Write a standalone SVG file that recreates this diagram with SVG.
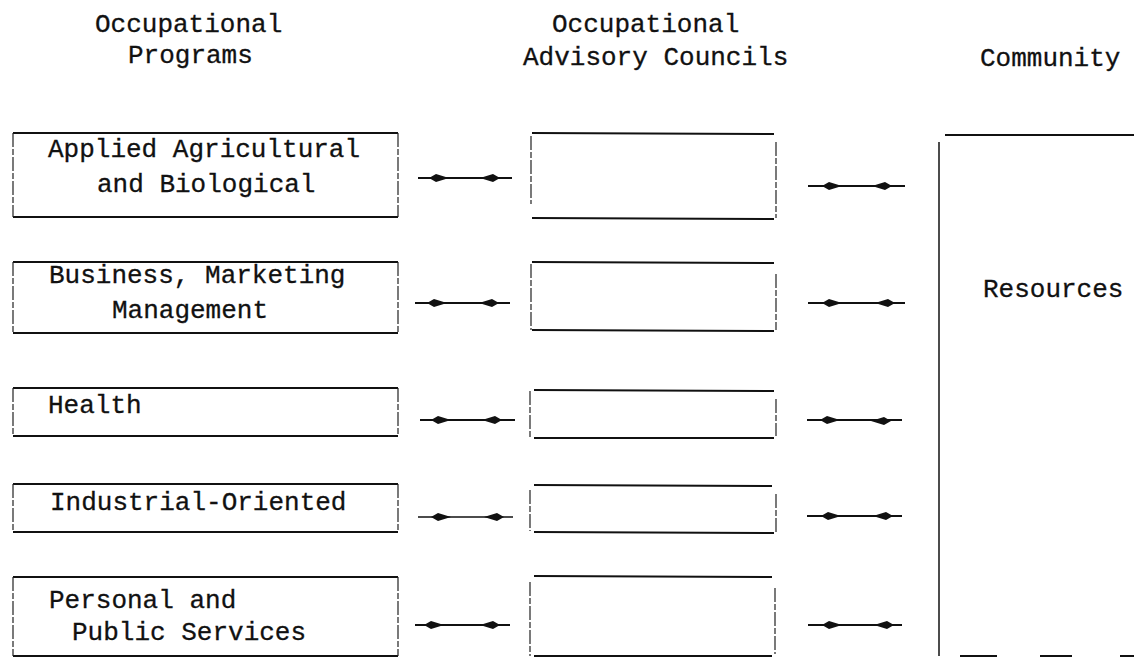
<svg xmlns="http://www.w3.org/2000/svg" xmlns:xlink="http://www.w3.org/1999/xlink" width="1134" height="658" viewBox="0 0 1134 658">
<style>
  text { font-family: "Liberation Mono", "DejaVu Sans Mono", monospace; font-size: 26px; fill: #111; stroke: #111; stroke-width: 0.3; }
  .h { stroke: #111; stroke-width: 2; fill: none; }
  .v { stroke: #222; stroke-width: 1.2; fill: none; stroke-dasharray: 14 2 6 2; }
  .ln { stroke: #111; stroke-width: 2; fill: none; }
  .hd { fill: #111; }
</style>
<defs>
  <path id="hr" class="hd" d="M-10,0 L3,-4 L10,0 L3,4 Z"/>
  <path id="hl" class="hd" d="M10,0 L-3,-4 L-10,0 L-3,4 Z"/>
</defs>
<rect width="1134" height="658" fill="#fff"/>

<g id="headers">
  <text x="95" y="32">Occupational</text>
  <text x="128" y="63">Programs</text>
  <text x="552" y="32">Occupational</text>
  <text x="523" y="65">Advisory Councils</text>
  <text x="980" y="66">Community</text>
</g>

<g id="prog1">
  <line class="h" x1="13" y1="133" x2="398" y2="133"/>
  <line class="h" x1="13" y1="217" x2="398" y2="217"/>
  <line class="v" x1="13" y1="133" x2="13" y2="217"/>
  <line class="v" x1="398" y1="133" x2="398" y2="217"/>
  <text x="48" y="157">Applied Agricultural</text>
  <text x="97" y="192">and Biological</text>
</g>
<g id="prog2">
  <line class="h" x1="13" y1="262" x2="398" y2="262"/>
  <line class="h" x1="13" y1="333" x2="398" y2="333"/>
  <line class="v" x1="13" y1="262" x2="13" y2="333"/>
  <line class="v" x1="398" y1="262" x2="398" y2="333"/>
  <text x="49" y="283">Business, Marketing</text>
  <text x="112" y="318">Management</text>
</g>
<g id="prog3">
  <line class="h" x1="13" y1="388" x2="398" y2="388"/>
  <line class="h" x1="13" y1="436" x2="398" y2="436"/>
  <line class="v" x1="13" y1="388" x2="13" y2="436"/>
  <line class="v" x1="398" y1="388" x2="398" y2="436"/>
  <text x="48" y="413">Health</text>
</g>
<g id="prog4">
  <line class="h" x1="13" y1="484" x2="398" y2="484"/>
  <line class="h" x1="13" y1="532" x2="398" y2="532"/>
  <line class="v" x1="13" y1="484" x2="13" y2="532"/>
  <line class="v" x1="398" y1="484" x2="398" y2="532"/>
  <text x="50" y="510">Industrial-Oriented</text>
</g>
<g id="prog5">
  <line class="h" x1="13" y1="577" x2="398" y2="577"/>
  <line class="h" x1="13" y1="656" x2="398" y2="656"/>
  <line class="v" x1="13" y1="577" x2="13" y2="656"/>
  <line class="v" x1="398" y1="577" x2="398" y2="656"/>
  <text x="49" y="608">Personal and</text>
  <text x="72" y="640">Public Services</text>
</g>

<g id="council1">
  <line class="h" x1="532" y1="133" x2="774" y2="134"/>
  <line class="h" x1="532" y1="218" x2="774" y2="219"/>
  <line class="v" x1="531" y1="136" x2="531" y2="204"/>
  <line class="v" x1="776" y1="142" x2="776" y2="218"/>
</g>
<g id="council2">
  <line class="h" x1="532" y1="262" x2="774" y2="263"/>
  <line class="h" x1="532" y1="330" x2="774" y2="331"/>
  <line class="v" x1="531" y1="264" x2="531" y2="330"/>
  <line class="v" x1="776" y1="274" x2="776" y2="330"/>
</g>
<g id="council3">
  <line class="h" x1="534" y1="390" x2="774" y2="391"/>
  <line class="h" x1="534" y1="438" x2="774" y2="438"/>
  <line class="v" x1="530" y1="391" x2="530" y2="437"/>
  <line class="v" x1="776" y1="399" x2="776" y2="436"/>
</g>
<g id="council4">
  <line class="h" x1="534" y1="485" x2="772" y2="486"/>
  <line class="h" x1="534" y1="532" x2="774" y2="533"/>
  <line class="v" x1="530" y1="490" x2="530" y2="531"/>
  <line class="v" x1="776" y1="494" x2="776" y2="532"/>
</g>
<g id="council5">
  <line class="h" x1="534" y1="576" x2="772" y2="577"/>
  <line class="h" x1="534" y1="656" x2="772" y2="656"/>
  <line class="v" x1="530" y1="582" x2="530" y2="656"/>
  <line class="v" x1="775" y1="588" x2="775" y2="654"/>
</g>

<g id="community">
  <line class="h" x1="945" y1="135" x2="1134" y2="135"/>
  <line class="ln" x1="939" y1="142" x2="939" y2="656" style="stroke-width:1.5"/>
  <line class="h" x1="960" y1="656" x2="997" y2="656"/>
  <line class="h" x1="1040" y1="656" x2="1072" y2="656"/>
  <line class="h" x1="1120" y1="656" x2="1134" y2="656"/>
  <text x="983" y="297">Resources</text>
</g>

<g id="connectors">
  <line class="ln" x1="418" y1="178" x2="512" y2="178"/>
  <use xlink:href="#hl" x="439" y="178"/><use xlink:href="#hr" x="490" y="178"/>
  <line class="ln" x1="808" y1="186" x2="905" y2="186"/>
  <use xlink:href="#hl" x="832" y="186"/><use xlink:href="#hr" x="882" y="186"/>

  <line class="ln" x1="415" y1="303" x2="510" y2="303"/>
  <use xlink:href="#hl" x="437" y="303"/><use xlink:href="#hr" x="489" y="303"/>
  <line class="ln" x1="808" y1="303" x2="905" y2="303"/>
  <use xlink:href="#hl" x="832" y="303"/><use xlink:href="#hr" x="885" y="303"/>

  <line class="ln" x1="420" y1="420" x2="515" y2="420"/>
  <use xlink:href="#hl" x="441" y="420"/><use xlink:href="#hr" x="492" y="420"/>
  <line class="ln" x1="807" y1="420" x2="902" y2="420"/>
  <use xlink:href="#hl" x="830" y="420"/><use xlink:href="#hr" x="881" y="421"/>

  <line class="ln" x1="418" y1="517" x2="513" y2="517" style="stroke-width:1.5"/>
  <use xlink:href="#hl" x="441" y="517"/><use xlink:href="#hr" x="494" y="517"/>
  <line class="ln" x1="807" y1="516" x2="902" y2="516"/>
  <use xlink:href="#hl" x="831" y="516"/><use xlink:href="#hr" x="883" y="516"/>

  <line class="ln" x1="415" y1="625" x2="510" y2="625"/>
  <use xlink:href="#hl" x="434" y="625"/><use xlink:href="#hr" x="490" y="625"/>
  <line class="ln" x1="808" y1="625" x2="902" y2="625"/>
  <use xlink:href="#hl" x="832" y="625"/><use xlink:href="#hr" x="884" y="625"/>
</g>
</svg>
